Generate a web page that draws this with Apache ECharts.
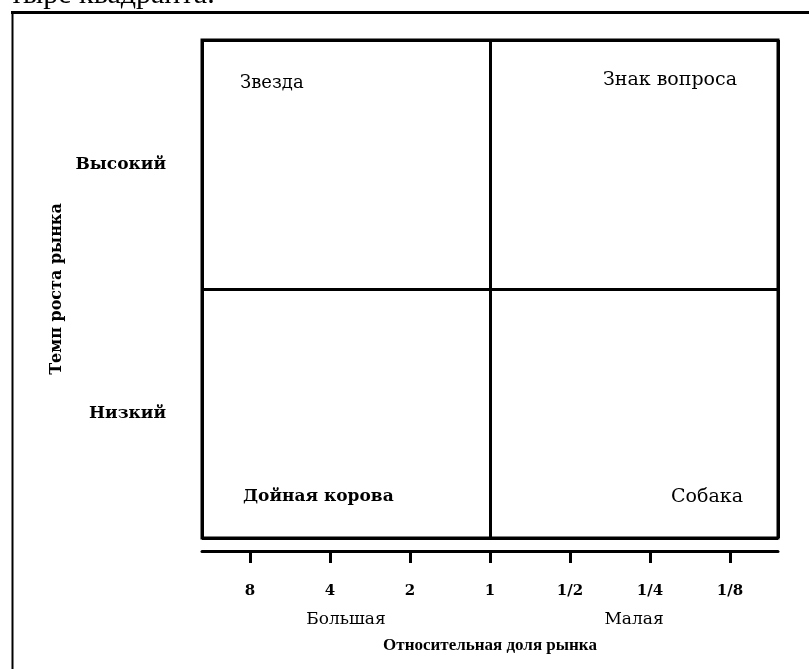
<!DOCTYPE html>
<html><head><meta charset="utf-8">
<script src="https://cdn.jsdelivr.net/npm/echarts@6/dist/echarts.min.js"></script>
<style>html,body{margin:0;padding:0;background:#fff}#c{width:809px;height:669px}</style>
</head><body><div id="c"></div>
<script>
// Growth categories (bottom to top) and market-share categories (left to right)
const growthCategories = ['Низкий', 'Высокий'];
const shareCategories = ['Большая', 'Малая'];
// Relative market share ticks (log scale, decreasing to the right)
const shareTicks = [8, 4, 2, 1, 0.5, 0.25, 0.125];
const shareTickLabels = ['8', '4', '2', '1', '1/2', '1/4', '1/8'];
// Quadrant names: top-left, top-right, bottom-left, bottom-right
const quadrantNames = ['Звезда', 'Знак вопроса', 'Дойная корова', 'Собака'];
const xAxisTitle = 'Относительная доля рынка';
const yAxisTitle = 'Темп роста рынка';
const headerText = 'тыре квадранта.';

const tickValues = shareTicks.map(s => -Math.log2(s));
const SERIF = 'DejaVu Serif';
const TIMES = 'Liberation Serif';

const chart = echarts.init(document.getElementById('c'), null, {renderer: 'canvas'});
const txt = (text, x, y, align, size, weight, family) => ({
  type: 'text', x: x, y: y, silent: true,
  style: {text: text, fill: '#000', font: (weight || 'normal') + ' ' + size + 'px "' + (family || SERIF) + '"',
          align: align, verticalAlign: 'middle'}
});

chart.setOption({
  animation: false,
  backgroundColor: '#fff',
  grid: {left: 202, right: 31, top: 40, bottom: 131, show: true, borderColor: '#000', borderWidth: 3,
         backgroundColor: 'transparent', containLabel: false},
  xAxis: [
    {
      type: 'category', data: shareCategories, position: 'bottom', offset: 0,
      axisLine: {show: false}, axisTick: {show: false},
      splitLine: {show: true, lineStyle: {color: '#000', width: 3}},
      axisLabel: {margin: 73, fontFamily: SERIF, fontSize: 17, color: '#000'},
      name: xAxisTitle, nameLocation: 'middle', nameGap: 99,
      nameTextStyle: {fontFamily: TIMES, fontWeight: 'bold', fontSize: 17, color: '#000'}
    },
    {
      type: 'value', min: -3.6, max: 3.6, position: 'bottom', offset: 13,
      axisLine: {show: true, lineStyle: {color: '#000', width: 3}},
      axisTick: {show: true, customValues: tickValues, length: 12, lineStyle: {color: '#000', width: 3}},
      axisLabel: {customValues: tickValues, margin: 33, fontFamily: SERIF, fontWeight: 'bold', fontSize: 15, color: '#000',
        formatter: v => shareTickLabels[tickValues.findIndex(t => Math.abs(t - v) < 1e-6)]},
      splitLine: {show: false}
    }
  ],
  yAxis: [{
    type: 'category', data: growthCategories,
    axisLine: {show: false}, axisTick: {show: false},
    splitLine: {show: true, lineStyle: {color: '#000', width: 3}},
    axisLabel: {margin: 36, fontFamily: SERIF, fontWeight: 'bold', fontSize: 17, color: '#000'},
    name: yAxisTitle, nameLocation: 'middle', nameGap: 130,
    nameTextStyle: {fontFamily: SERIF, fontWeight: 'bold', fontSize: 16, color: '#000'}
  }],
  series: [{type: 'scatter', xAxisIndex: 1, yAxisIndex: 0, data: [], silent: true}],
  graphic: [
    {type: 'line', silent: true, shape: {x1: 11, y1: 12.5, x2: 809, y2: 12.5}, style: {stroke: '#000', lineWidth: 3}},
    {type: 'line', silent: true, shape: {x1: 12.5, y1: 11, x2: 12.5, y2: 669}, style: {stroke: '#000', lineWidth: 2}},
    txt(headerText, 10, -5, 'left', 30, 'normal', TIMES),
    txt(quadrantNames[0], 240, 83, 'left', 18, 'normal'),
    txt(quadrantNames[1], 737, 80, 'right', 19, 'normal'),
    txt(quadrantNames[2], 243, 497, 'left', 17, 'bold'),
    txt(quadrantNames[3], 743, 497, 'right', 19, 'normal')
  ]
});
</script></body></html>
